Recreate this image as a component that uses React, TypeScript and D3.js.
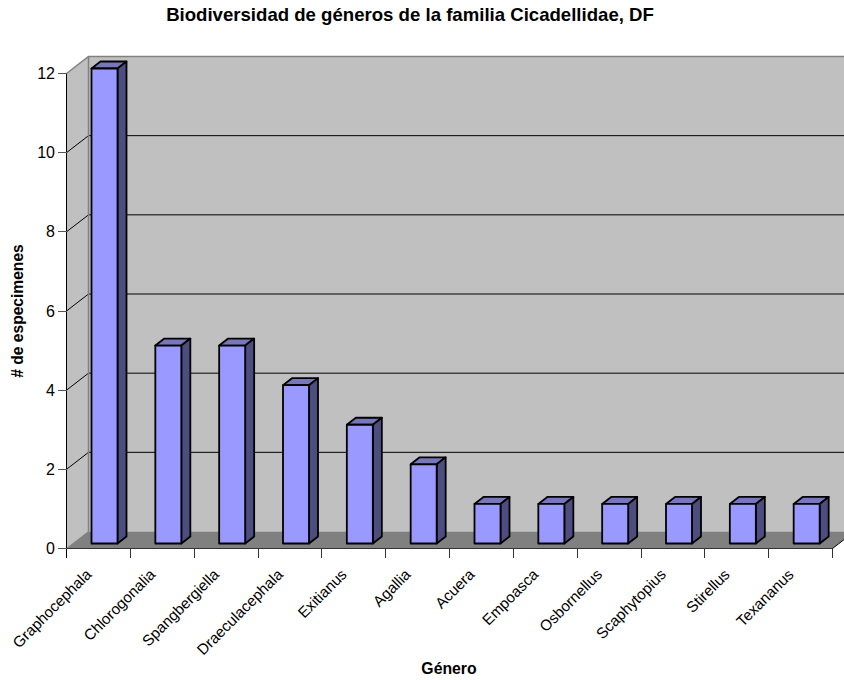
import React from "react";
import * as d3 from "d3";

const genera = [
  "Graphocephala", "Chlorogonalia", "Spangbergiella", "Draeculacephala",
  "Exitianus", "Agallia", "Acuera", "Empoasca",
  "Osbornellus", "Scaphytopius", "Stirellus", "Texananus",
];
const specimens = [12, 5, 5, 4, 3, 2, 1, 1, 1, 1, 1, 1];
const yTicks = [0, 2, 4, 6, 8, 10, 12];

const WIDTH = 844;
const HEIGHT = 680;
const FONT = "'Liberation Sans', Arial, sans-serif";

// Front plane of the pseudo-3D box, and the shift to its back plane.
const LEFT = 66.5;
const RIGHT = 832.5;
const BOTTOM = 548.5;
const TOP = 73.5;
const DEPTH_X = 22;
const DEPTH_Y = -17;

// Column proportions inside the box.
const BAR_W = 26;
const BAR_DX = 9;
const BAR_DY = -7;
const BAR_FLOOR = BOTTOM - 5;

const x = d3.scaleBand<string>().domain(genera).range([LEFT, RIGHT]);
const y = d3.scaleLinear().domain([0, 12]).range([BOTTOM, TOP]);

const poly = (pts: [number, number][]) => {
  const p = d3.path();
  pts.forEach(([a, b], i) => (i ? p.lineTo(a, b) : p.moveTo(a, b)));
  p.closePath();
  return p.toString();
};

export default function App() {
  const backL = LEFT + DEPTH_X;
  const backR = RIGHT + DEPTH_X;
  const backTop = TOP + DEPTH_Y;
  const backBottom = BOTTOM + DEPTH_Y;

  return (
    <svg
      width={WIDTH}
      height={HEIGHT}
      viewBox={`0 0 ${WIDTH} ${HEIGHT}`}
      style={{ position: "absolute", left: 0, top: 0, background: "#fff" }}
      fontFamily={FONT}
    >
      <text x={410} y={20.5} textAnchor="middle" fontSize={18.6} fontWeight="bold" fill="#000">
        Biodiversidad de géneros de la familia Cicadellidae, DF
      </text>

      {/* back wall */}
      <path d={poly([[backL, backTop], [backR, backTop], [backR, backBottom], [backL, backBottom]])} fill="#c0c0c0" />
      {/* side wall */}
      <path d={poly([[LEFT, TOP], [backL, backTop], [backL, backBottom], [LEFT, BOTTOM]])} fill="#c0c0c0" />
      {/* floor */}
      <path d={poly([[LEFT, BOTTOM], [backL, backBottom], [backR, backBottom], [RIGHT, BOTTOM]])} fill="#808080" />

      {/* gridlines run along the side wall and across the back wall */}
      <g fill="none" stroke="#000" strokeWidth={1}>
        {yTicks.filter((t) => t > 0 && t < 12).map((t) => (
          <path
            key={t}
            d={`M${LEFT},${y(t)}L${backL},${y(t) + DEPTH_Y}L${backR},${y(t) + DEPTH_Y}`}
          />
        ))}
      </g>

      {/* wall edges */}
      <g fill="none" stroke="#808080" strokeWidth={1.5}>
        <path d={`M${LEFT},${TOP}L${backL},${backTop}L${backR},${backTop}`} />
        <path d={`M${backL},${backTop}L${backL},${backBottom}`} />
      </g>
      <path d={`M${LEFT},${BOTTOM}L${backL},${backBottom}`} stroke="#808080" fill="none" />

      {/* columns */}
      <g stroke="#000" strokeWidth={1.8} strokeLinejoin="round">
        {genera.map((g, i) => {
          const x0 = (x(g) as number) + 25;
          const x1 = x0 + BAR_W;
          const yb = BAR_FLOOR;
          const yt = BAR_FLOOR - (BOTTOM - y(specimens[i]));
          return (
            <g key={g}>
              <path d={poly([[x0, yt], [x0 + BAR_DX, yt + BAR_DY], [x1 + BAR_DX, yt + BAR_DY], [x1, yt]])} fill="#7777bb" />
              <path d={poly([[x1, yt], [x1 + BAR_DX, yt + BAR_DY], [x1 + BAR_DX, yb + BAR_DY], [x1, yb]])} fill="#4d4d80" />
              <path d={poly([[x0, yt], [x1, yt], [x1, yb], [x0, yb]])} fill="#9999ff" />
            </g>
          );
        })}
      </g>

      {/* value axis */}
      <g shapeRendering="crispEdges">
        <line x1={LEFT} x2={LEFT} y1={TOP} y2={BOTTOM + 9} stroke="#000" />
        {yTicks.map((t) => (
          <line key={t} x1={LEFT - 9} x2={LEFT} y1={y(t)} y2={y(t)} stroke="#555" />
        ))}
        <line x1={LEFT} x2={RIGHT} y1={BOTTOM} y2={BOTTOM} stroke="#333" />
        {genera.map((g) => {
          const tx = (x(g) as number) + x.bandwidth();
          return <line key={g} x1={tx} x2={tx} y1={BOTTOM} y2={BOTTOM + 9} stroke="#333" />;
        })}
      </g>
      <path d={`M${RIGHT},${BOTTOM}L${backR},${backBottom}`} stroke="#000" fill="none" />

      {yTicks.map((t) => (
        <text key={t} x={LEFT - 11.5} y={y(t) + 5.5} textAnchor="end" fontSize={16} fill="#000">
          {t}
        </text>
      ))}

      {genera.map((g) => {
        const tx = (x(g) as number) + x.bandwidth() / 2 - 6;
        const ty = BOTTOM + 27;
        return (
          <text
            key={g}
            transform={`translate(${tx},${ty}) rotate(-45)`}
            textAnchor="end"
            fontSize={15.2}
            fill="#000"
          >
            {g}
          </text>
        );
      })}

      <text x={449} y={673.5} textAnchor="middle" fontSize={15.8} fontWeight="bold" fill="#000">
        Género
      </text>
      <text
        transform="translate(23,311) rotate(-90)"
        textAnchor="middle"
        fontSize={15.6}
        fontWeight="bold"
        fill="#000"
      >
        # de especimenes
      </text>
    </svg>
  );
}
